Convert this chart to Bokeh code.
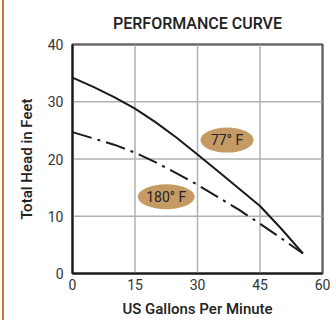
from bokeh.plotting import figure
from bokeh.models import Range1d, FixedTicker, ColumnDataSource
from bokeh.embed import file_html
from bokeh.resources import INLINE
from bokeh.core.properties import value

# data
gpm = [0, 5, 10, 15, 20, 25, 30, 35, 40, 45, 50, 55.3]
head_77 = [34.2, 32.6, 30.8, 28.8, 26.4, 23.7, 20.8, 17.8, 14.8, 11.8, 7.9, 3.5]
head_180 = [24.7, 23.6, 22.5, 21.1, 19.4, 17.5, 15.5, 13.3, 11.1, 8.7, 6.2, 3.5]
label_text = ["77° F", "180° F"]
label_x = [37.1, 22.5]
label_y = [23.3, 13.4]
label_w = [53, 57]
x_ticks = [0, 15, 30, 45, 60]
y_ticks = [0, 10, 20, 30, 40]
title_text = "PERFORMANCE CURVE"
x_title = "US Gallons Per Minute"
y_title = "Total Head in Feet"

FONT = "Roboto"
FONT_MED = "'Roboto Medium', Roboto"
ACCENT = "#cc7a33"

p = figure(width=336, height=320, output_backend="svg", toolbar_location=None,
           x_range=Range1d(0, 60), y_range=Range1d(0, 40),
           min_border_left=72, min_border_right=14, min_border_top=42, min_border_bottom=47)

# transparent border so that the card's orange left rule (CSS background) shows
p.border_fill_color = None
p.background_fill_color = "white"
p.styles = {"background": "linear-gradient(to right, white 0px, white 2px, %s 2px, %s 4px, white 4px, white 100%%)" % (ACCENT, ACCENT)}

p.title.text = title_text
p.title.align = "center"
p.title.text_font = FONT_MED
p.title.text_font_size = "16px"
p.title.text_font_style = "normal"
p.title.text_color = "#222222"
p.title.standoff = 23

p.outline_line_color = "#1a1a1a"
p.outline_line_width = 2

for ax, ticks in ((p.xaxis, x_ticks), (p.yaxis, y_ticks)):
    ax.ticker = FixedTicker(ticks=ticks)
    ax.major_tick_in = 0
    ax.major_tick_out = 0
    ax.minor_tick_in = 0
    ax.minor_tick_out = 0
    ax.axis_line_color = "#1a1a1a"
    ax.axis_line_width = 2
    ax.major_label_text_font = FONT
    ax.major_label_text_font_size = "14px"
    ax.major_label_text_color = "#333333"
    ax.axis_label_text_font = FONT_MED
    ax.axis_label_text_font_size = "15px"
    ax.axis_label_text_font_style = "normal"
    ax.axis_label_text_color = "#222222"

p.xaxis.axis_label = x_title
p.yaxis.axis_label = y_title
p.xaxis.major_label_standoff = 5
p.xaxis.axis_label_standoff = 7
p.yaxis.major_label_standoff = 9
p.yaxis.axis_label_standoff = 9

p.grid.visible = False

# grid lines drawn from the tick arrays
p.segment(x0=x_ticks, y0=[y_ticks[0]] * len(x_ticks), x1=x_ticks, y1=[y_ticks[-1]] * len(x_ticks),
          line_color="#b0b0b0", line_width=1.5)
p.segment(x0=[x_ticks[0]] * len(y_ticks), y0=y_ticks, x1=[x_ticks[-1]] * len(y_ticks), y1=y_ticks,
          line_color="#b0b0b0", line_width=1.5)

p.line(gpm, head_77, line_color="#1a1a1a", line_width=2)
p.line(gpm, head_180, line_color="#1a1a1a", line_width=2, line_dash="20 6 3 6")

src = ColumnDataSource(dict(x=label_x, y=label_y, w=label_w, t=label_text))
p.ellipse(x="x", y="y", width="w", height=25, width_units="screen", height_units="screen",
          source=src, fill_color="#c69a64", line_color=None)
p.text(x="x", y="y", text="t", source=src, text_align="center", text_baseline="middle",
       text_font=value(FONT), text_font_size="14px", text_color="#222222")

open("out.html", "w").write(file_html(p, INLINE))
